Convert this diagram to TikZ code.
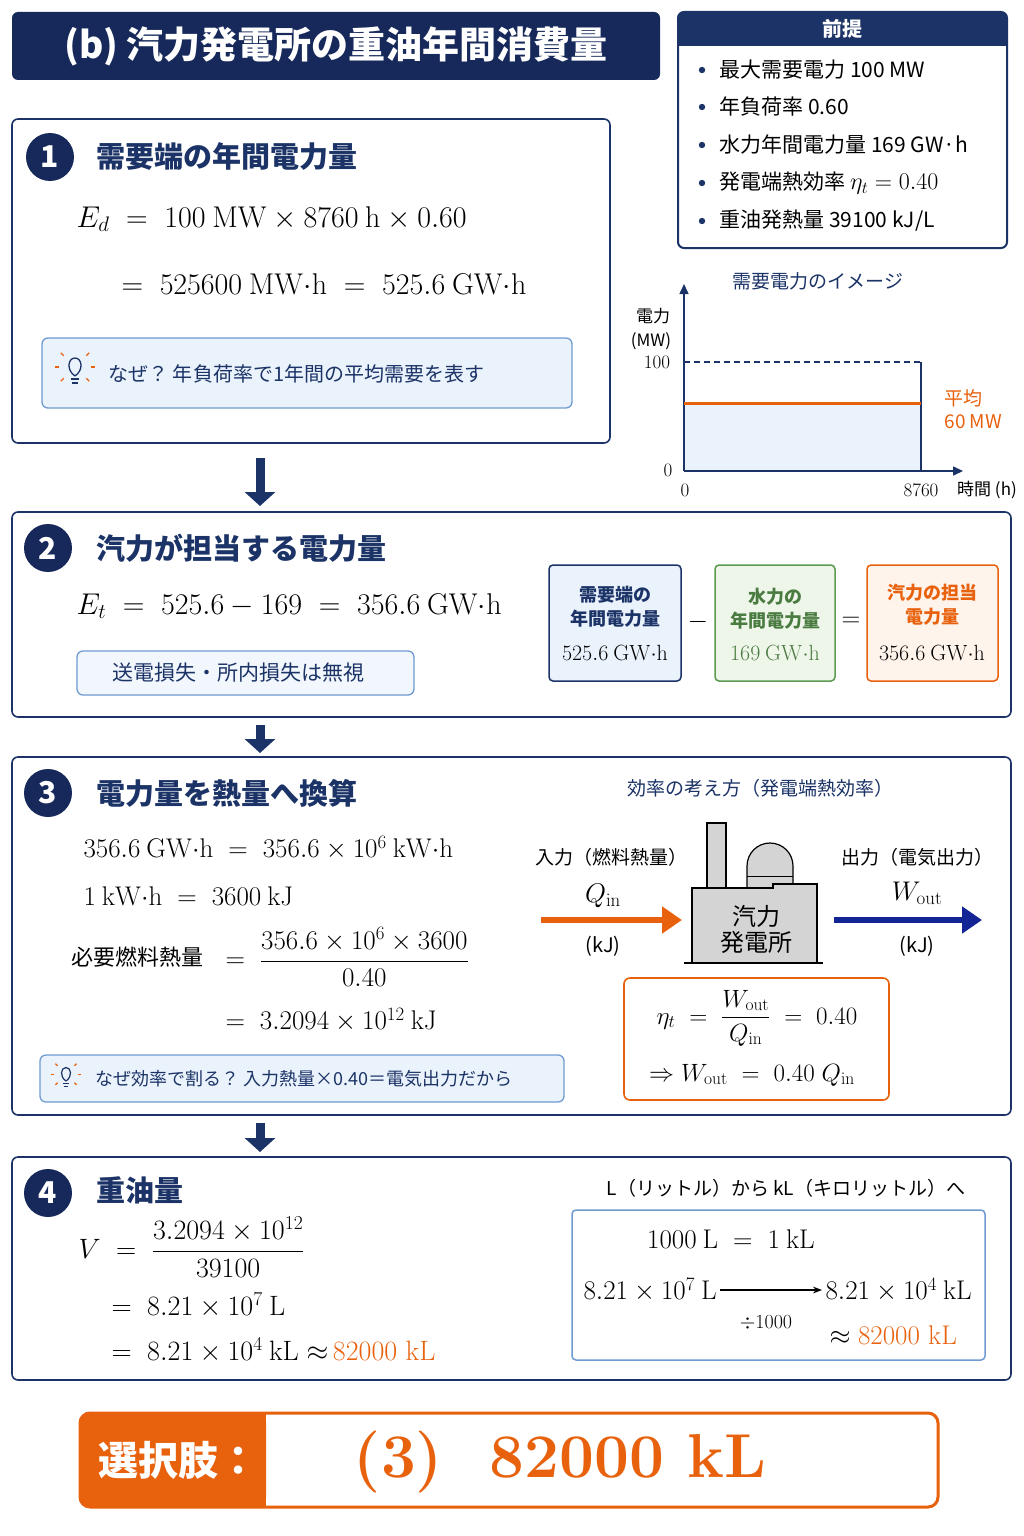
\RequirePackage{fix-cm}
\documentclass[tikz,border=0pt]{standalone}
\usepackage{amsmath}
\usepackage[no-math]{fontspec}
\setmainfont{Noto Sans CJK JP}
\newfontfamily\lmr{Latin Modern Roman}
\usetikzlibrary{arrows.meta}
\definecolor{navy}{HTML}{1B3366}
\definecolor{dnavy}{HTML}{16295A}
\definecolor{org}{HTML}{E8620E}
\definecolor{lblue}{HTML}{EAF2FB}
\definecolor{bblue}{HTML}{6F9BD1}
\definecolor{lgreen}{HTML}{EEF6EA}
\definecolor{bgreen}{HTML}{5C9A50}
\definecolor{lorg}{HTML}{FFF4EC}
\definecolor{gr}{HTML}{D4D4D4}
\newcommand{\fs}[1]{\fontsize{#1}{#1}\selectfont}
\begin{document}
\begin{tikzpicture}[x=1pt,y=-1pt,
  sec/.style={draw=navy,line width=1.6pt,rounded corners=6pt,fill=white},
  num/.style={circle,fill=dnavy,text=white,minimum size=48pt,inner sep=0pt,font=\fs{30}\bfseries},
  head/.style={anchor=west,text=navy,font=\fs{29}\bfseries},
  eq/.style={anchor=west,font=\fs{30}},
  hint/.style={draw=bblue,line width=1.3pt,fill=lblue,rounded corners=6pt},
  dn/.style={-{Triangle[length=14pt,width=30pt]},line width=9pt,draw=navy},
]
\useasboundingbox (0,0) rectangle (1024,1536);
\fill[white] (0,0) rectangle (1024,1536);
% title
\node[fill=dnavy,rounded corners=6pt,minimum width=648pt,minimum height=68pt,text=white,font=\fs{37}\bfseries] (title) at (336,46) {(b) 汽力発電所の重油年間消費量};
% premise
\draw[draw=navy,line width=2pt,rounded corners=6pt] (678,12) rectangle (1007,248);
\fill[navy,rounded corners=6pt] (678,12) rectangle (1007,46);
\fill[navy] (678,30) rectangle (1007,46);
\node[text=white,font=\fs{20}\bfseries] (pt) at (842,29) {前提};
\foreach \y/\t in {70/{最大需要電力 100 MW},107/{年負荷率 0.60},145/{水力年間電力量 169 GW·h},183/{発電端熱効率 \fs{24}$\eta_t=\mathrm{0.40}$},221/{重油発熱量 39100 kJ/L}}{
  \fill[navy] (702,\y) circle (3.2pt);
  \node[anchor=west,font=\fs{21}] at (716,\y) {\t};
}
% box 1
\draw[sec] (12,119) rectangle (610,443);
\node[num] (n1) at (50,157) {1};
\node[head] (h1) at (93,157) {需要端の年間電力量};
\node[eq] (e1) at (73,219) {$E_d\;=\;\mathrm{100\ MW\times 8760\ h\times 0.60}$};
\node[eq] (e1b) at (118,284) {$=\;\mathrm{525600\ MW{\cdot}h\;=\;525.6\ GW{\cdot}h}$};
\draw[hint] (42,338) rectangle (572,408);
\node[anchor=west,text=navy,font=\fs{20}] (w1) at (105,374) {なぜ？\ 年負荷率で1年間の平均需要を表す};
\begin{scope}[shift={(75,372)}]
\draw[navy,line width=1.3pt] (0,4) .. controls (-9,-2) and (-7,-14) .. (0,-14) .. controls (7,-14) and (9,-2) .. (0,4);
\draw[navy,line width=1.3pt] (-4,7)--(4,7) (-3,11)--(3,11);
\foreach \a in {0,45,135,180,-45,-135}{\draw[org,line width=1.3pt] ({cos(\a)*16},{-5-sin(\a)*16})--({cos(\a)*20},{-5-sin(\a)*20});}
\end{scope}
% arrow 1
\coordinate (a1s) at (260,458); \coordinate (a1e) at (260,506);
\draw[dn] (a1s)--(a1e);
% chart
\node[text=navy,font=\fs{19}] (ct) at (818,281) {需要電力のイメージ};
\fill[lblue] (684,403) rectangle (921,471);
\coordinate (o) at (684,471); \coordinate (yt) at (684,284); \coordinate (xt) at (963,471);
\draw[navy,line width=1.5pt,-{Triangle[length=10pt,width=9pt]}] (o)--(yt);
\draw[navy,line width=1.5pt,-{Triangle[length=10pt,width=9pt]}] (o)--(xt);
\draw[navy,line width=1.2pt,dash pattern=on 6pt off 4pt] (684,362)--(921,362);
\draw[navy,line width=1.3pt] (921,362)--(921,471);
\draw[org,line width=3pt] (684,403)--(921,403);
\node[font=\fs{17}] at (653,316) {電力};
\node[font=\fs{17}] at (651,341) {(MW)};
\node[font=\fs{19}\lmr] at (657,362) {100};
\node[font=\fs{19}\lmr] at (668,470) {0};
\node[font=\fs{19}\lmr] at (685,490) {0};
\node[font=\fs{19}\lmr] at (921,490) {8760};
\node[font=\fs{17}] at (987,490) {時間 (h)};
\node[anchor=west,text=org,font=\fs{19}] at (941,398) {平均};
\node[anchor=west,text=org,font=\fs{19}] at (941,422) {60 MW};
% box 2
\draw[sec] (12,512) rectangle (1011,717);
\node[num] (n2) at (48,548) {2};
\node[head] (h2) at (93,548) {汽力が担当する電力量};
\node[eq] (e2) at (73,606) {$E_t\;=\;\mathrm{525.6-169\;=\;356.6\ GW{\cdot}h}$};
\draw[hint,fill=lblue!60] (77,651) rectangle (414,695);
\node[text=navy,font=\fs{21}] at (238,673) {送電損失・所内損失は無視};
\draw[draw=navy,line width=1.5pt,fill=lblue,rounded corners=4pt] (549,565) rectangle (681,681);
\node[text=navy,font=\fs{18}\bfseries,align=center] (b1) at (615,607) {需要端の\\[6pt]年間電力量};
\node[font=\fs{22}] at (615,653) {$\mathrm{525.6\ GW{\cdot}h}$};
\node[font=\fs{26}] (mi) at (698,622) {$-$};
\draw[draw=bgreen,line width=1.5pt,fill=lgreen,rounded corners=4pt] (715,565) rectangle (835,681);
\node[text=bgreen!80!black,font=\fs{18}\bfseries,align=center] (b2) at (775,609) {水力の\\[6pt]年間電力量};
\node[text=bgreen!80!black,font=\fs{22}] at (775,653) {$\mathrm{169\ GW{\cdot}h}$};
\node[font=\fs{26}] (eqs) at (851,622) {$=$};
\draw[draw=org,line width=1.5pt,fill=lorg,rounded corners=4pt] (867,565) rectangle (998,681);
\node[text=org,font=\fs{18}\bfseries,align=center] (b3) at (932,605) {汽力の担当\\[6pt]電力量};
\node[font=\fs{22}] at (932,653) {$\mathrm{356.6\ GW{\cdot}h}$};
% arrow 2
\coordinate (a2s) at (260,725); \coordinate (a2e) at (260,753);
\draw[dn] (a2s)--(a2e);
% box 3
\draw[sec] (12,757) rectangle (1011,1115);
\node[num] (n3) at (48,793) {3};
\node[head] (h3) at (93,793) {電力量を熱量へ換算};
\node[eq,font=\fs{27}] at (80,848) {$\mathrm{356.6\ GW{\cdot}h\;=\;356.6\times10^6\ kW{\cdot}h}$};
\node[eq,font=\fs{27}] at (80,896) {$\mathrm{1\ kW{\cdot}h\;=\;3600\ kJ}$};
\node[anchor=west,font=\fs{22}] at (68,957) {必要燃料熱量};
\node[eq,font=\fs{27}] at (222,957) {$=\;\dfrac{\mathrm{356.6\times10^6\times3600}}{\mathrm{0.40}}$};
\node[eq,font=\fs{27}] at (222,1020) {$=\;\mathrm{3.2094\times10^{12}\ kJ}$};
\draw[hint] (40,1055) rectangle (564,1102);
\node[anchor=west,text=navy,font=\fs{18}] at (92,1079) {なぜ効率で割る？\ 入力熱量×0.40＝電気出力だから};
\begin{scope}[shift={(66,1078)},scale=0.75]
\draw[navy,line width=1.2pt] (0,4) .. controls (-9,-2) and (-7,-14) .. (0,-14) .. controls (7,-14) and (9,-2) .. (0,4);
\draw[navy,line width=1.2pt] (-4,7)--(4,7) (-3,11)--(3,11);
\foreach \a in {0,45,135,180,-45,-135}{\draw[org,line width=1.2pt] ({cos(\a)*16},{-5-sin(\a)*16})--({cos(\a)*20},{-5-sin(\a)*20});}
\end{scope}
\node[text=navy,font=\fs{19}] at (760,788) {効率の考え方（発電端熱効率）};
% plant
\draw[fill=gr,line width=1.2pt] (707,823) rectangle (726,888);
\draw[fill=gr,line width=1.2pt] (747,888) -- (747,866) arc (180:360:23) -- (793,888) -- cycle;
\draw[line width=1pt] (747,876)--(793,876);
\draw[fill=gr,line width=1.2pt] (692,962) -- (692,888) -- (773,888) -- (773,884) -- (817,884) -- (817,962);
\draw[line width=1.4pt] (684,963)--(823,963);
\node[font=\fs{24},align=center] (plant) at (756,929) {汽力\\[2pt]発電所};
\node[font=\fs{19}] at (611,857) {入力（燃料熱量）};
\node[font=\fs{27}] at (603,896) {$Q_{\mathrm{in}}$};
\node[font=\fs{20}] at (603,946) {(kJ)};
\coordinate (qin) at (541,920); \coordinate (pin) at (682,920);
\draw[org,line width=6pt,-{Triangle[length=20pt,width=26pt]}] (qin)--(pin);
\coordinate (pout) at (834,920); \coordinate (wout) at (982,920);
\draw[navy!70!blue,line width=6pt,-{Triangle[length=20pt,width=26pt]}] (pout)--(wout);
\node[font=\fs{19}] at (917,857) {出力（電気出力）};
\node[font=\fs{27}] at (917,893) {$W_{\mathrm{out}}$};
\node[font=\fs{20}] at (917,946) {(kJ)};
\draw[draw=org,line width=1.6pt,rounded corners=6pt] (624,978) rectangle (889,1100);
\node[font=\fs{25}] at (757,1018) {$\eta_t\;=\;\dfrac{W_{\mathrm{out}}}{Q_{\mathrm{in}}}\;=\;\mathrm{0.40}$};
\node[font=\fs{25}] at (752,1075) {$\Rightarrow W_{\mathrm{out}}\;=\;\mathrm{0.40}\;Q_{\mathrm{in}}$};
% arrow 3
\coordinate (a3s) at (260,1123); \coordinate (a3e) at (260,1152);
\draw[dn] (a3s)--(a3e);
% box 4
\draw[sec] (12,1157) rectangle (1011,1380);
\node[num] (n4) at (48,1193) {4};
\node[head] (h4) at (93,1190) {重油量};
\node[eq,font=\fs{28}] at (75,1247) {$V\;=\;\dfrac{\mathrm{3.2094\times10^{12}}}{\mathrm{39100}}$};
\node[eq,font=\fs{28}] at (108,1305) {$=\mathrm{\;8.21\times10^{7}\ L}$};
\node[eq,font=\fs{28}] at (108,1350) {$=\mathrm{\;8.21\times10^{4}\ kL}\approx$\,\textcolor{org}{\lmr 82000 kL}};
\node[font=\fs{19}] at (786,1188) {L（リットル）から kL（キロリットル）へ};
\draw[draw=bblue,line width=1.5pt,rounded corners=4pt] (572,1210) rectangle (985,1360);
\node[font=\fs{27}] at (731,1239) {$\mathrm{1000\ L\;=\;1\ kL}$};
\node[font=\fs{27},anchor=west] (l1) at (580,1290) {$\mathrm{8.21\times10^{7}\ L}$};
\node[font=\fs{27},anchor=west] (l2) at (822,1290) {$\mathrm{8.21\times10^{4}\ kL}$};
\draw[line width=1.2pt,-{Stealth[length=9pt]}] (l1.east)--(l2.west);
\node[font=\fs{20}] at (766,1323) {$\div\mathrm{1000}$};
\node[font=\fs{27},anchor=west] at (826,1335) {$\approx$\;\textcolor{org}{\lmr 82000 kL}};
% answer
\draw[draw=org,line width=3pt,rounded corners=10pt,fill=white] (80,1413) rectangle (938,1507);
\fill[org,rounded corners=9pt] (80,1413) rectangle (266,1507);
\fill[org] (240,1413) rectangle (266,1507);
\node[text=white,font=\fs{40}\bfseries] (sel) at (178,1460) {選択肢：};
\node[text=org,font=\fs{62}\lmr\bfseries] (ans) at (560,1462) {(3)\ \ 82000 kL};
\end{tikzpicture}
\end{document}
